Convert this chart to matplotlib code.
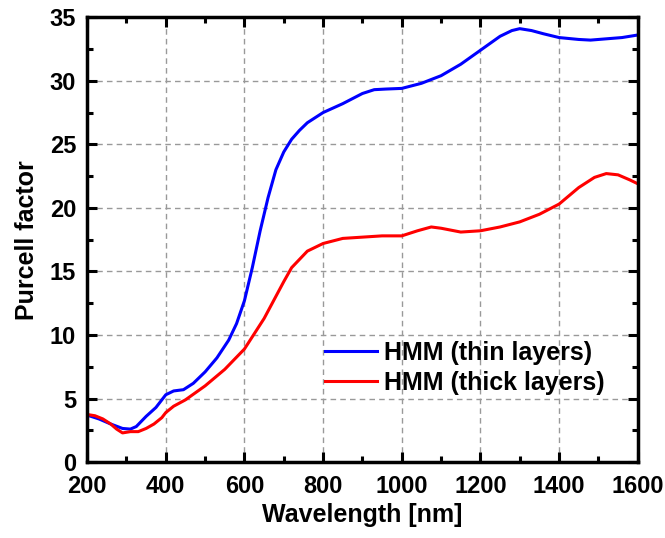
import matplotlib.pyplot as plt
from matplotlib.ticker import MultipleLocator

plt.rcParams['font.family'] = ['Liberation Sans', 'DejaVu Sans']
plt.rcParams['font.weight'] = 'bold'

# HMM (thin layers)
wl_thin = [200, 230, 260, 290, 310, 325, 350, 375, 400, 420, 445, 470, 500, 530,
           560, 580, 600, 620, 640, 660, 680, 700, 720, 740, 760, 780, 800, 850,
           900, 930, 960, 1000, 1050, 1100, 1150, 1200, 1250, 1280, 1300, 1330,
           1360, 1400, 1450, 1480, 1520, 1560, 1600]
pf_thin = [3.7, 3.4, 3.0, 2.65, 2.6, 2.8, 3.6, 4.3, 5.3, 5.6, 5.7, 6.2, 7.1, 8.2,
           9.6, 10.9, 12.7, 15.3, 18.2, 20.8, 23.0, 24.4, 25.4, 26.1, 26.7, 27.1,
           27.5, 28.2, 29.0, 29.3, 29.35, 29.4, 29.8, 30.4, 31.3, 32.4, 33.5,
           33.95, 34.1, 33.95, 33.7, 33.4, 33.25, 33.2, 33.3, 33.4, 33.6]

# HMM (thick layers)
wl_thick = [200, 220, 240, 260, 275, 290, 310, 330, 350, 370, 390, 400, 420, 450,
            500, 550, 600, 650, 700, 720, 760, 800, 850, 900, 950, 1000, 1040,
            1075, 1100, 1150, 1200, 1250, 1300, 1350, 1400, 1450, 1490, 1520,
            1550, 1580, 1600]
pf_thick = [3.75, 3.65, 3.4, 3.0, 2.6, 2.3, 2.4, 2.4, 2.65, 3.0, 3.5, 3.9, 4.4,
            4.9, 6.0, 7.3, 8.9, 11.3, 14.2, 15.3, 16.6, 17.2, 17.6, 17.7, 17.8,
            17.8, 18.2, 18.5, 18.4, 18.1, 18.2, 18.5, 18.9, 19.5, 20.3, 21.6,
            22.4, 22.7, 22.6, 22.2, 21.9]

fig = plt.figure(figsize=(6.65, 5.38), dpi=100)
ax = fig.add_axes([0.131, 0.141, 0.828, 0.827])

ax.plot(wl_thin, pf_thin, color='#0000ff', lw=2.2, label='HMM (thin layers)')
ax.plot(wl_thick, pf_thick, color='#ff0000', lw=2.2, label='HMM (thick layers)')

ax.set_xlim(200, 1600)
ax.set_ylim(0, 35)
ax.xaxis.set_major_locator(MultipleLocator(200))
ax.xaxis.set_minor_locator(MultipleLocator(100))
ax.yaxis.set_major_locator(MultipleLocator(5))
ax.yaxis.set_minor_locator(MultipleLocator(2.5))
ax.grid(True, which='major', color='#999999', linestyle=(0, (4, 3)), lw=1.0)

ax.tick_params(which='both', direction='in', top=True, right=True, width=2.2,
               labelsize=17)
ax.tick_params(which='major', length=7)
ax.tick_params(which='minor', length=4)
ax.tick_params(axis='x', which='major', pad=9)
ax.tick_params(axis='y', which='major', pad=8)
for s in ax.spines.values():
    s.set_linewidth(2.5)

ax.set_xlabel('Wavelength [nm]', fontsize=18, fontweight='bold', labelpad=4)
ax.set_ylabel('Purcell factor', fontsize=18, fontweight='bold', labelpad=8)

leg = ax.legend(loc='center left', bbox_to_anchor=(0.432, 0.212), frameon=False,
                fontsize=18, handlelength=2.1, handletextpad=0.25,
                labelspacing=0.25, borderpad=0, borderaxespad=0)

fig.savefig('out.png', dpi=100)
